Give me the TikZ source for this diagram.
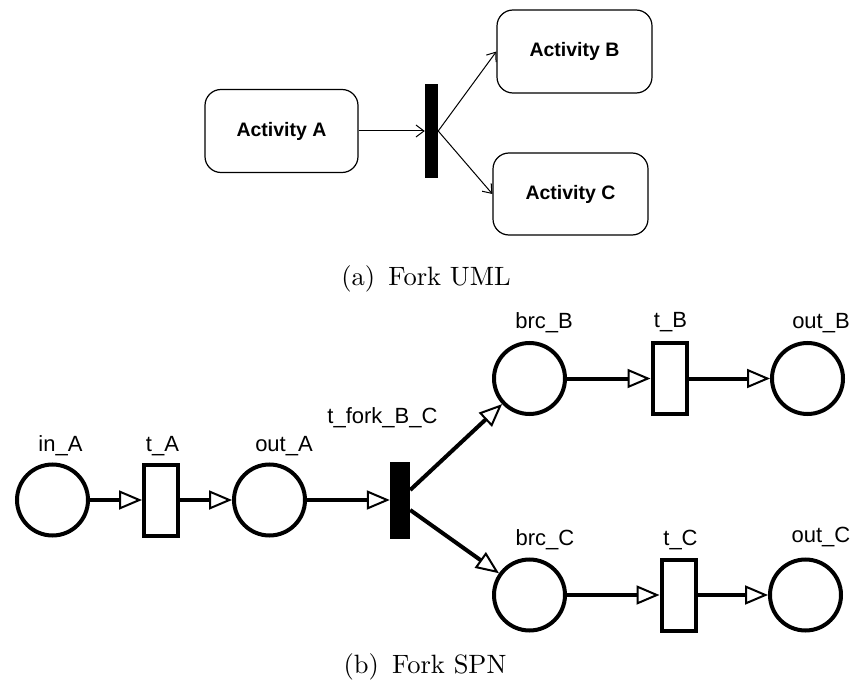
\documentclass[tikz,border=0pt]{standalone}
\usepackage{fontspec}
\newfontfamily\lab{Liberation Sans}
\newfontfamily\capf{lmroman10-regular.otf}
\usetikzlibrary{arrows.meta}
\begin{document}
\begin{tikzpicture}[x=1pt,y=-1pt,
  act/.style={draw, line width=1.2pt, rounded corners=16pt, inner sep=0pt, font=\lab\bfseries\fontsize{19.5}{22}\selectfont},
  umlbar/.style={fill=black, draw=none, inner sep=0pt, minimum width=13pt, minimum height=94pt},
  umlarr/.style={line width=1pt, -{Straight Barb[length=8pt,width=12pt]}},
  place/.style={circle, draw, line width=4pt, minimum size=71pt, inner sep=0pt},
  trans/.style={rectangle, draw, line width=4pt, minimum width=34pt, minimum height=71pt, inner sep=0pt},
  forkbar/.style={rectangle, fill=black, draw=none, minimum width=20pt, minimum height=77pt, inner sep=0pt},
  arc/.style={line width=4pt, -{Triangle[open,length=23pt,width=19pt,line width=2pt]}},
  plabel/.style={anchor=base, inner sep=0pt, font=\lab\fontsize{22}{26}\selectfont},
  capt/.style={inner sep=0pt, font=\capf\fontsize{26.5}{30}\selectfont}
]
\useasboundingbox (0,0) rectangle (855,682);
% UML fork
\node[act, minimum width=153pt, minimum height=83pt] (A) at (281.5,131) {Activity A};
\node[act, minimum width=155pt, minimum height=83pt] (B) at (574.5,51.5) {Activity B};
\node[act, minimum width=155pt, minimum height=82pt] (C) at (570.5,194) {Activity C};
\node[umlbar] (bar) at (431.5,131) {};
\draw[umlarr] (A.east) -- (bar.west);
\draw[umlarr] (bar.east) -- (B.west);
\draw[umlarr] (bar.east) -- (C.west);
\node[capt] (capa) at (426,279) {(a)\enspace Fork UML};
% SPN fork
\node[place] (inA) at (52.5,500) {};
\node[trans] (tA) at (161,500) {};
\node[place] (outA) at (269.5,500) {};
\node[forkbar] (fork) at (400,500) {};
\node[place] (brcB) at (529.5,378.5) {};
\node[trans] (tB) at (669.5,378.5) {};
\node[place] (outB) at (807.5,378.5) {};
\node[place] (brcC) at (529.5,595) {};
\node[trans] (tC) at (678.5,595) {};
\node[place] (outC) at (805.5,595) {};
\draw[arc] (inA) -- (tA);
\draw[arc] (tA) -- (outA);
\draw[arc] (outA) -- (fork);
\draw[arc] ([yshift=10pt]fork.east) -- (brcB);
\draw[arc] ([yshift=-10pt]fork.east) -- (brcC);
\draw[arc] (brcB) -- (tB);
\draw[arc] (tB) -- (outB);
\draw[arc] (brcC) -- (tC);
\draw[arc] (tC) -- (outC);
\node[plabel] (linA) at (60.5,451) {in\_A};
\node[plabel] (ltA) at (162.5,451) {t\_A};
\node[plabel] (loutA) at (284,451) {out\_A};
\node[plabel] (lfork) at (382.5,423) {t\_fork\_B\_C};
\node[plabel] (lbrcB) at (544,328) {brc\_B};
\node[plabel] (ltB) at (670.5,327) {t\_B};
\node[plabel] (loutB) at (821,328) {out\_B};
\node[plabel] (lbrcC) at (545,545) {brc\_C};
\node[plabel] (ltC) at (680.5,545) {t\_C};
\node[plabel] (loutC) at (821,542) {out\_C};
\node[capt] (capb) at (425,667) {(b)\enspace Fork SPN};
\end{tikzpicture}
\end{document}
